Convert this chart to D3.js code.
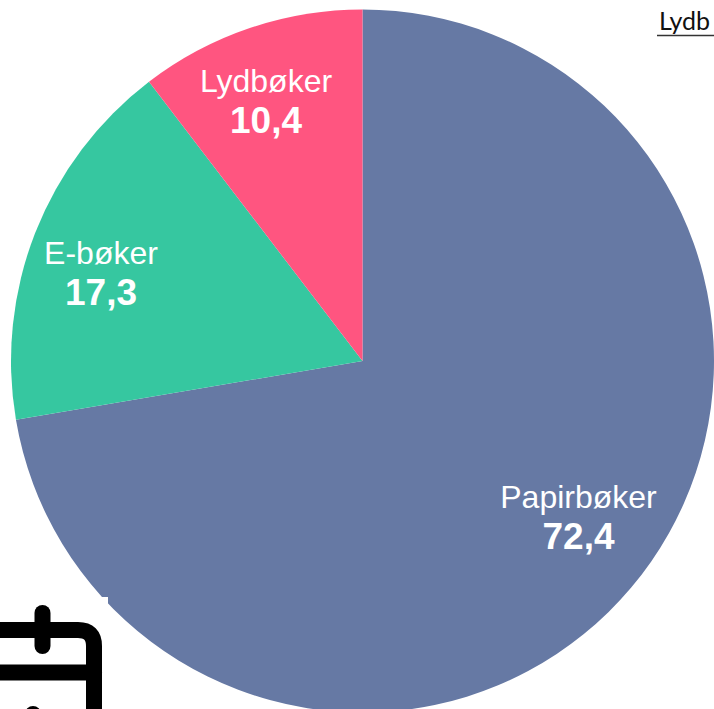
<!DOCTYPE html>
<html><head><meta charset="utf-8">
<script src="https://cdnjs.cloudflare.com/ajax/libs/d3/7.8.5/d3.min.js"></script>
<style>html,body{margin:0;padding:0;background:#fff;overflow:hidden}</style>
</head><body><svg id="c" width="714" height="709"></svg>
<script>
const categories = ["Papirbøker", "E-bøker", "Lydbøker"];
const seriesValues = [72.4, 17.3, 10.4];
const valueLabels = ["72,4", "17,3", "10,4"];
const colors = ["#6679a4", "#36c7a0", "#ff5580"];
const labelPos = [[578.5, 497], [101, 253], [266, 81]];

const svg = d3.select("#c");
const cx = 362.5, cy = 361, r = 351.5;
const pie = d3.pie().sort(null).value(d => d)(seriesValues);
const arc = d3.arc().innerRadius(0).outerRadius(r);
const color = d3.scaleOrdinal(categories, colors);

// decorative calendar icon behind the pie
const icon = svg.append("g").attr("fill", "none").attr("stroke", "#000").attr("stroke-width", 16).attr("stroke-linecap", "round");
icon.append("path").attr("d", "M-20 630H78Q94 630 94 646V730");
icon.append("path").attr("d", "M-20 672.5H94");
icon.append("path").attr("d", "M42.5 613V646");
icon.append("path").attr("d", "M33 714H33");

svg.append("g").attr("transform", `translate(${cx},${cy})`)
  .selectAll("path").data(pie).join("path")
  .attr("d", arc)
  .attr("fill", (d, i) => color(categories[i]));

svg.append("rect").attr("x", 100).attr("y", 597).attr("width", 8).attr("height", 7).attr("fill", "#fff");

const labels = svg.append("g").attr("font-family", "'Liberation Sans',Arial,sans-serif").attr("fill", "#fff").attr("text-anchor", "middle");
categories.forEach((c, i) => {
  labels.append("text").attr("x", labelPos[i][0]).attr("y", labelPos[i][1] + 11).attr("font-size", 32).text(c);
  labels.append("text").attr("x", labelPos[i][0]).attr("y", labelPos[i][1] + 52).attr("font-size", 37).attr("font-weight", "bold").text(valueLabels[i]);
});

svg.append("text").attr("x", 659).attr("y", 29.5).attr("font-family", "Lato,sans-serif").attr("font-size", 25).attr("fill", "#111").text("Lydb");
svg.append("line").attr("x1", 657).attr("x2", 714).attr("y1", 35.5).attr("y2", 35.5).attr("stroke", "#333").attr("stroke-width", 1.5);
</script></body></html>
